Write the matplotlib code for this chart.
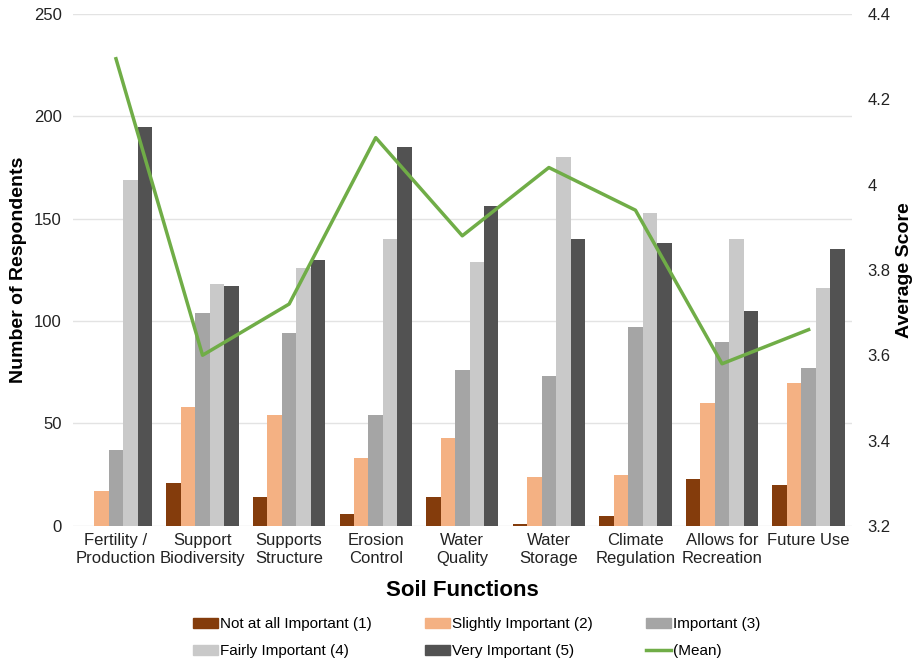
import numpy as np
import matplotlib
matplotlib.use("Agg")
import matplotlib.pyplot as plt
from matplotlib.patches import Patch
from matplotlib.lines import Line2D

plt.rcParams['font.family'] = ['Liberation Sans', 'DejaVu Sans']

# Soil function categories
categories = ["Fertility /\nProduction", "Support\nBiodiversity", "Supports\nStructure",
              "Erosion\nControl", "Water\nQuality", "Water\nStorage",
              "Climate\nRegulation", "Allows for\nRecreation", "Future Use\n"]

# Number of respondents per importance level
not_at_all = [0, 21, 14, 6, 14, 1, 5, 23, 20]
slightly = [17, 58, 54, 33, 43, 24, 25, 60, 70]
important = [37, 104, 94, 54, 76, 73, 97, 90, 77]
fairly = [169, 118, 126, 140, 129, 180, 153, 140, 116]
very = [195, 117, 130, 185, 156, 140, 138, 105, 135]

# Average score
mean_score = [4.295, 3.60, 3.72, 4.11, 3.88, 4.04, 3.94, 3.58, 3.66]

series = [not_at_all, slightly, important, fairly, very]
labels = ["Not at all Important (1)", "Slightly Important (2)", "Important (3)",
          "Fairly Important (4)", "Very Important (5)"]
colors = ["#843C0C", "#F4B183", "#A5A5A5", "#C9C9C9", "#525252"]
green = "#70AD47"

fig = plt.figure(figsize=(9.2, 6.64), dpi=100)
ax = fig.add_axes([0.079, 0.208, 0.847, 0.771])
ax2 = ax.twinx()

x = np.arange(len(categories))
w = 0.167
for i, (vals, col) in enumerate(zip(series, colors)):
    ax.bar(x + (i - 2) * w, vals, width=w, color=col, zorder=2)

ax2.plot(x, mean_score, color=green, linewidth=2.5, zorder=3)

ax.set_xlim(-0.5, len(categories) - 0.5)
ax.set_ylim(0, 250)
ax.set_yticks(np.arange(0, 251, 50))
ax2.set_ylim(3.2, 4.4)
ax2.set_yticks([3.2, 3.4, 3.6, 3.8, 4.0, 4.2, 4.4])
ax2.set_yticklabels(["3.2", "3.4", "3.6", "3.8", "4", "4.2", "4.4"])

ax.set_xticks(x)
ax.set_xticklabels(categories, fontsize=12, linespacing=1.25)
ax.yaxis.grid(True, color="#E3E3E3", linewidth=1, zorder=0)
ax.set_axisbelow(True)
for a in (ax, ax2):
    for s in a.spines.values():
        s.set_visible(False)
    a.tick_params(length=0, labelsize=12, colors="#222222")
ax.tick_params(axis='y', pad=8)
ax2.tick_params(axis='y', pad=11)
ax.tick_params(axis='x', pad=5, labelsize=12)

ax.set_ylabel("Number of Respondents", fontsize=14, fontweight="bold")
ax.yaxis.set_label_coords(-0.059, 0.5)
ax2.set_ylabel("Average Score", fontsize=14, fontweight="bold", rotation=90)
ax2.yaxis.set_label_coords(1.057, 0.5)
ax.set_xlabel("Soil Functions", fontsize=16, fontweight="bold", labelpad=10)

handles = [Patch(color=c, label=l) for c, l in zip(colors, labels)]
handles.append(Line2D([0], [0], color=green, linewidth=2.5, label="(Mean)"))
order = [0, 3, 1, 4, 2, 5]
fig.legend([handles[k] for k in order], [handles[k].get_label() for k in order],
           ncol=3, loc="lower left", bbox_to_anchor=(0.195, -0.012), frameon=False,
           fontsize=11, handlelength=1.6, handleheight=0.6, handletextpad=0.15,
           columnspacing=3.5, labelspacing=0.85)

fig.savefig("out.png", dpi=100)
